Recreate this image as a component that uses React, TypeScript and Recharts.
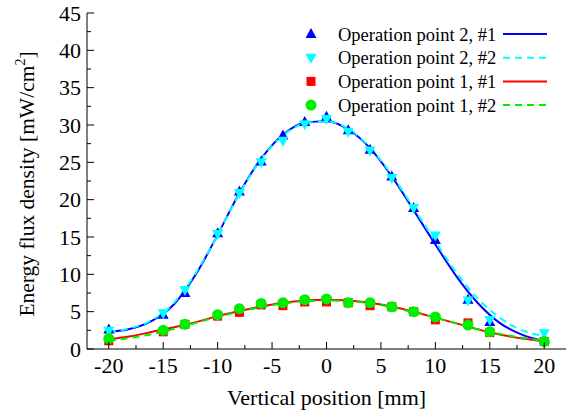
import React from "react";
import {
  ComposedChart,
  Scatter,
  Line,
  XAxis,
  YAxis,
  Legend,
} from "recharts";

// measured positions (mm) and energy flux density (mW/cm2)
const positions = [-20, -15, -13, -10, -8, -6, -4, -2, 0, 2, 4, 6, 8, 10, 13, 15, 20];
const op2run1 = [2.6, 4.6, 7.5, 15.5, 21.1, 25.1, 28.6, 30.4, 31.1, 29.3, 26.7, 23.1, 18.9, 14.6, 6.6, 3.6, 1.3];
const op2run2 = [2.45, 4.8, 7.9, 15.4, 20.9, 25.0, 27.9, 30.1, 30.8, 29.1, 26.6, 22.9, 18.9, 15.2, 6.5, 3.9, 2.1];
const op1run1 = [1.1, 2.3, 3.3, 4.4, 4.9, 5.9, 5.8, 6.3, 6.3, 6.2, 5.8, 5.65, 5.0, 3.9, 3.5, 2.2, 1.0];
const op1run2 = [1.4, 2.5, 3.3, 4.6, 5.4, 6.1, 6.2, 6.6, 6.7, 6.2, 6.2, 5.65, 5.0, 4.3, 3.2, 2.3, 1.0];

// fitted curves
const fitPositions = [-20, -18, -16, -14, -12, -10, -8, -6, -4, -2, 0, 2, 4, 6, 8, 10, 12, 14, 16, 18, 20];
const fitOp2run1 = [2.3, 2.7, 3.8, 6.0, 10.0, 15.3, 20.9, 25.5, 28.7, 30.3, 30.5, 29.4, 26.9, 23.1, 18.6, 14.0, 9.6, 6.0, 3.4, 1.9, 1.1];
const fitOp2run2 = [2.3, 2.8, 3.9, 6.2, 10.2, 15.3, 20.8, 25.4, 28.6, 30.2, 30.5, 29.5, 27.0, 23.3, 18.9, 14.4, 10.1, 6.6, 4.1, 2.5, 1.7];
const fitOp1run1 = [1.3, 1.7, 2.3, 2.9, 3.6, 4.4, 5.1, 5.7, 6.2, 6.5, 6.6, 6.5, 6.2, 5.7, 5.0, 4.2, 3.4, 2.6, 1.9, 1.4, 1.0];
const fitOp1run2 = [1.1, 1.5, 2.0, 2.7, 3.5, 4.3, 5.0, 5.6, 6.1, 6.4, 6.5, 6.4, 6.1, 5.6, 4.9, 4.2, 3.4, 2.6, 2.0, 1.5, 1.1];

const xTicks = [-20, -17.5, -15, -12.5, -10, -7.5, -5, -2.5, 0, 2.5, 5, 7.5, 10, 12.5, 15, 17.5, 20];
const yTicks = [0, 2.5, 5, 7.5, 10, 12.5, 15, 17.5, 20, 22.5, 25, 27.5, 30, 32.5, 35, 37.5, 40, 42.5, 45];

const toPoints = (xs: number[], ys: number[]) => xs.map((x, i) => ({ x, y: ys[i] }));

const FONT = "'Liberation Serif', 'Times New Roman', serif";

type Marker = "up" | "down" | "square" | "circle";

const series = [
  { name: "Operation point 2, #1", color: "#0000ff", marker: "up" as Marker, dash: "", pts: op2run1, fit: fitOp2run1 },
  { name: "Operation point 2, #2", color: "#00ffff", marker: "down" as Marker, dash: "7 5", pts: op2run2, fit: fitOp2run2 },
  { name: "Operation point 1, #1", color: "#ff0000", marker: "square" as Marker, dash: "", pts: op1run1, fit: fitOp1run1 },
  { name: "Operation point 1, #2", color: "#00ee00", marker: "circle" as Marker, dash: "7 5", pts: op1run2, fit: fitOp1run2 },
];

function drawMarker(kind: Marker, cx: number, cy: number, color: string) {
  if (kind === "up") {
    return <polygon points={`${cx},${cy - 6} ${cx - 5.5},${cy + 4} ${cx + 5.5},${cy + 4}`} fill={color} />;
  }
  if (kind === "down") {
    return <polygon points={`${cx},${cy + 6} ${cx - 5.5},${cy - 4} ${cx + 5.5},${cy - 4}`} fill={color} />;
  }
  if (kind === "square") {
    return <rect x={cx - 4.5} y={cy - 4.5} width={9} height={9} fill={color} />;
  }
  return <circle cx={cx} cy={cy} r={5.5} fill={color} />;
}

const isMajor = (v: number) => Math.abs(v % 5) < 1e-6;

const BottomTick = (props: any) => {
  const { x, y, payload } = props;
  const major = isMajor(payload.value);
  return (
    <g>
      <line x1={x} x2={x} y1={y} y2={y - (major ? 7 : 4)} stroke="#000" strokeWidth={1} />
      {major && (
        <text x={x} y={y + 24} textAnchor="middle" fontFamily={FONT} fontSize={22} fill="#000">
          {payload.value}
        </text>
      )}
    </g>
  );
};

const TopTick = (props: any) => {
  const { x, y, payload } = props;
  const major = isMajor(payload.value);
  return <line x1={x} x2={x} y1={y} y2={y + (major ? 7 : 4)} stroke="#000" strokeWidth={1} />;
};

const LeftTick = (props: any) => {
  const { x, y, payload } = props;
  const major = isMajor(payload.value);
  return (
    <g>
      <line x1={x} x2={x + (major ? 7 : 4)} y1={y} y2={y} stroke="#000" strokeWidth={1} />
      {major && (
        <text x={x - 6} y={y + 7.5} textAnchor="end" fontFamily={FONT} fontSize={22} fill="#000">
          {payload.value}
        </text>
      )}
    </g>
  );
};

const RightTick = (props: any) => {
  const { x, y, payload } = props;
  const major = isMajor(payload.value);
  return <line x1={x} x2={x - (major ? 7 : 4)} y1={y} y2={y} stroke="#000" strokeWidth={1} />;
};

const YTitle = (props: any) => {
  const vb = props.viewBox || { x: 0, y: 13, width: 87, height: 336 };
  const cx = 34;
  const cy = vb.y + vb.height / 2 + 3;
  return (
    <text
      x={cx}
      y={cy}
      transform={`rotate(-90 ${cx} ${cy})`}
      textAnchor="middle"
      fontFamily={FONT}
      fontSize={21.5}
      fill="#000"
    >
      Energy flux density [mW/cm
      <tspan fontSize={14} dy={-9}>2</tspan>
      <tspan dy={9}>]</tspan>
    </text>
  );
};

const XTitle = (props: any) => {
  const vb = props.viewBox || { x: 87, y: 349, width: 479, height: 68 };
  return (
    <text x={vb.x + vb.width / 2} y={vb.y + 56} textAnchor="middle" fontFamily={FONT} fontSize={22} fill="#000">
      Vertical position [mm]
    </text>
  );
};

const LegendBox = () => {
  const rowGap = 23.7;
  return (
    <svg width={275} height={100} style={{ display: "block" }}>
      {series.map((s, i) => {
        const cy = 10 + i * rowGap;
        return (
          <g key={s.name}>
            {drawMarker(s.marker, 21, cy, s.color)}
            <text x={48} y={cy + 6.5} fontFamily={FONT} fontSize={18.5} fill="#000">
              {s.name}
            </text>
            <line
              x1={213}
              x2={257}
              y1={cy}
              y2={cy}
              stroke={s.color}
              strokeWidth={2}
              strokeDasharray={s.dash || undefined}
            />
          </g>
        );
      })}
    </svg>
  );
};

export default function App() {
  return (
    <div style={{ position: "absolute", left: 0, top: 0, background: "#fff" }}>
      <ComposedChart width={571} height={417} margin={{ top: 13, right: 5, bottom: 0, left: 0 }}>
        <XAxis
          xAxisId="bottom"
          dataKey="x"
          type="number"
          domain={[-22, 22]}
          ticks={xTicks}
          interval={0}
          allowDataOverflow
          height={68}
          tickSize={0}
          tickMargin={0}
          tick={<BottomTick />}
          axisLine={{ stroke: "#000", strokeWidth: 1 }}
          label={<XTitle />}
        />
        <XAxis
          xAxisId="top"
          orientation="top"
          dataKey="x"
          type="number"
          domain={[-22, 22]}
          ticks={xTicks}
          interval={0}
          allowDataOverflow
          height={0}
          tickSize={0}
          tickMargin={0}
          tick={<TopTick />}
          axisLine={{ stroke: "#000", strokeWidth: 1 }}
        />
        <YAxis
          yAxisId="left"
          type="number"
          domain={[0, 45]}
          ticks={yTicks}
          interval={0}
          allowDataOverflow
          width={87}
          tickSize={0}
          tickMargin={0}
          tick={<LeftTick />}
          axisLine={{ stroke: "#000", strokeWidth: 1 }}
          label={<YTitle />}
        />
        <YAxis
          yAxisId="right"
          orientation="right"
          type="number"
          domain={[0, 45]}
          ticks={yTicks}
          interval={0}
          allowDataOverflow
          width={0}
          tickSize={0}
          tickMargin={0}
          tick={<RightTick />}
          axisLine={{ stroke: "#000", strokeWidth: 1 }}
        />
        <Legend
          layout="vertical"
          align="center"
          verticalAlign="middle"
          content={<LegendBox />}
          wrapperStyle={{ left: 290, top: 24, width: 275 }}
        />
        {series.map((s) => (
          <React.Fragment key={s.name}>
            <Scatter
              xAxisId="bottom"
              yAxisId="left"
              name={s.name}
              data={toPoints(positions, s.pts)}
              dataKey="y"
              isAnimationActive={false}
              shape={(p: any) => drawMarker(s.marker, p.cx, p.cy, s.color)}
            />
            <Line
              xAxisId="bottom"
              yAxisId="left"
              data={toPoints(fitPositions, s.fit)}
              dataKey="y"
              type="monotone"
              stroke={s.color}
              strokeWidth={2}
              strokeDasharray={s.dash || undefined}
              dot={false}
              activeDot={false}
              legendType="none"
              isAnimationActive={false}
            />
          </React.Fragment>
        ))}
      </ComposedChart>
    </div>
  );
}
